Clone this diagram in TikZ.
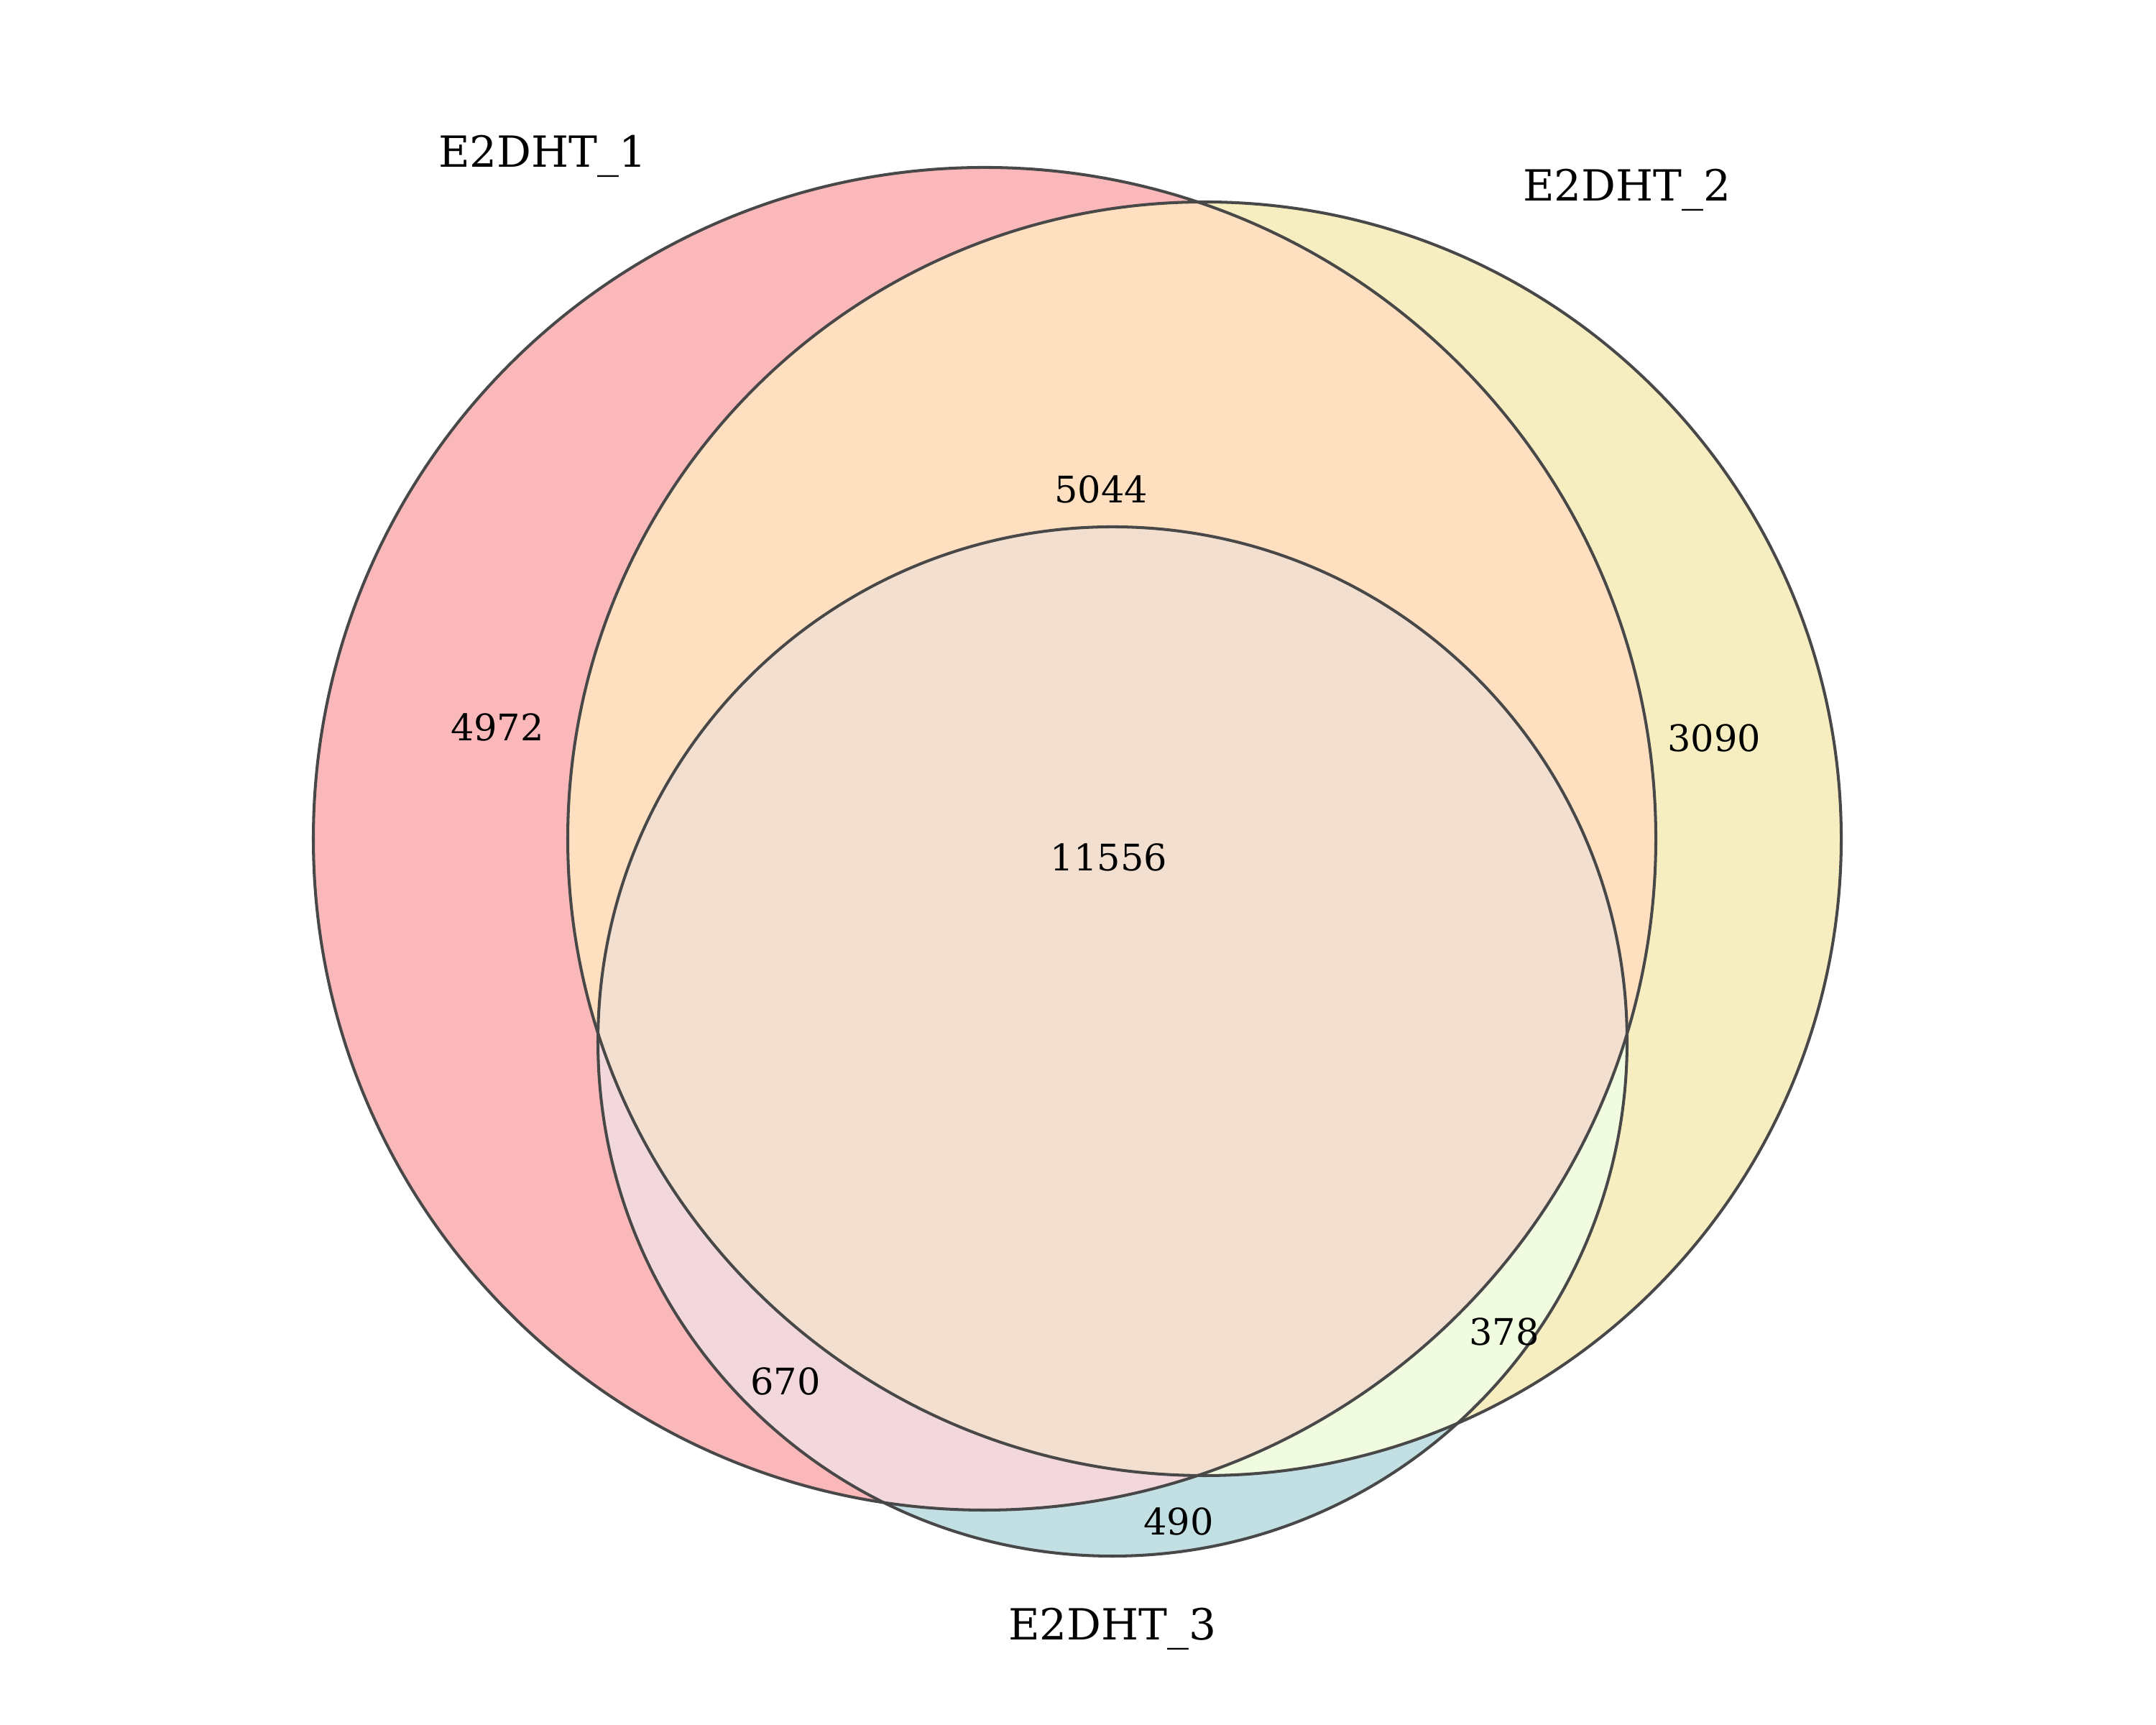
\documentclass[tikz,border=0pt]{standalone}
\usepackage{fontspec}
\setmainfont{DejaVu Serif}
\usepackage{xcolor}
\definecolor{oneonly}{RGB}{250,184,186}
\definecolor{twoonly}{RGB}{246,238,192}
\definecolor{threeonly}{RGB}{194,223,228}
\definecolor{onetwo}{RGB}{254,224,193}
\definecolor{onethree}{RGB}{242,215,220}
\definecolor{twothree}{RGB}{240,251,224}
\definecolor{allthree}{RGB}{242,223,208}
\definecolor{venngray}{RGB}{72,72,72}
\def\rA{9.34}
\def\rB{8.86}
\def\rC{7.16}

\begin{document}
\begin{tikzpicture}[
    setlabel/.style={anchor=base, font=\fontsize{17}{20}\selectfont},
    count/.style={anchor=base, font=\fontsize{14.5}{17}\selectfont},
    rim/.style={draw=venngray, line width=1.15pt}]
    \useasboundingbox (0,0) rectangle (30,24);
    \coordinate (c1) at (13.70,12.33);
    \coordinate (c2) at (16.76,12.33);
    \coordinate (c3) at (15.48,9.51);
    % single sets
    \fill[oneonly] (c1) circle (\rA);
    \fill[twoonly] (c2) circle (\rB);
    \fill[threeonly] (c3) circle (\rC);
    % overlaps
    \begin{scope}
        \clip (c1) circle (\rA);
        \fill[onetwo] (c2) circle (\rB);
        \fill[onethree] (c3) circle (\rC);
    \end{scope}
    \begin{scope}
        \clip (c2) circle (\rB);
        \fill[twothree] (c3) circle (\rC);
        \clip (c1) circle (\rA);
        \fill[allthree] (c3) circle (\rC);
    \end{scope}
    \draw[rim] (c1) circle (\rA);
    \draw[rim] (c2) circle (\rB);
    \draw[rim] (c3) circle (\rC);
    % set names
    \node[setlabel] (name1) at (7.55,21.67) {E2DHT\_1};
    \node[setlabel] (name2) at (22.64,21.20) {E2DHT\_2};
    \node[setlabel] (name3) at (15.48,1.18) {E2DHT\_3};
    % subset sizes
    \node[count] (n100) at (6.92,13.69) {4972};
    \node[count] (n010) at (23.85,13.54) {3090};
    \node[count] (n110) at (15.32,17.00) {5044};
    \node[count] (n111) at (15.43,11.88) {11556};
    \node[count] (n101) at (10.93,4.59) {670};
    \node[count] (n011) at (20.93,5.28) {378};
    \node[count] (n001) at (16.40,2.64) {490};
\end{tikzpicture}
\end{document}
